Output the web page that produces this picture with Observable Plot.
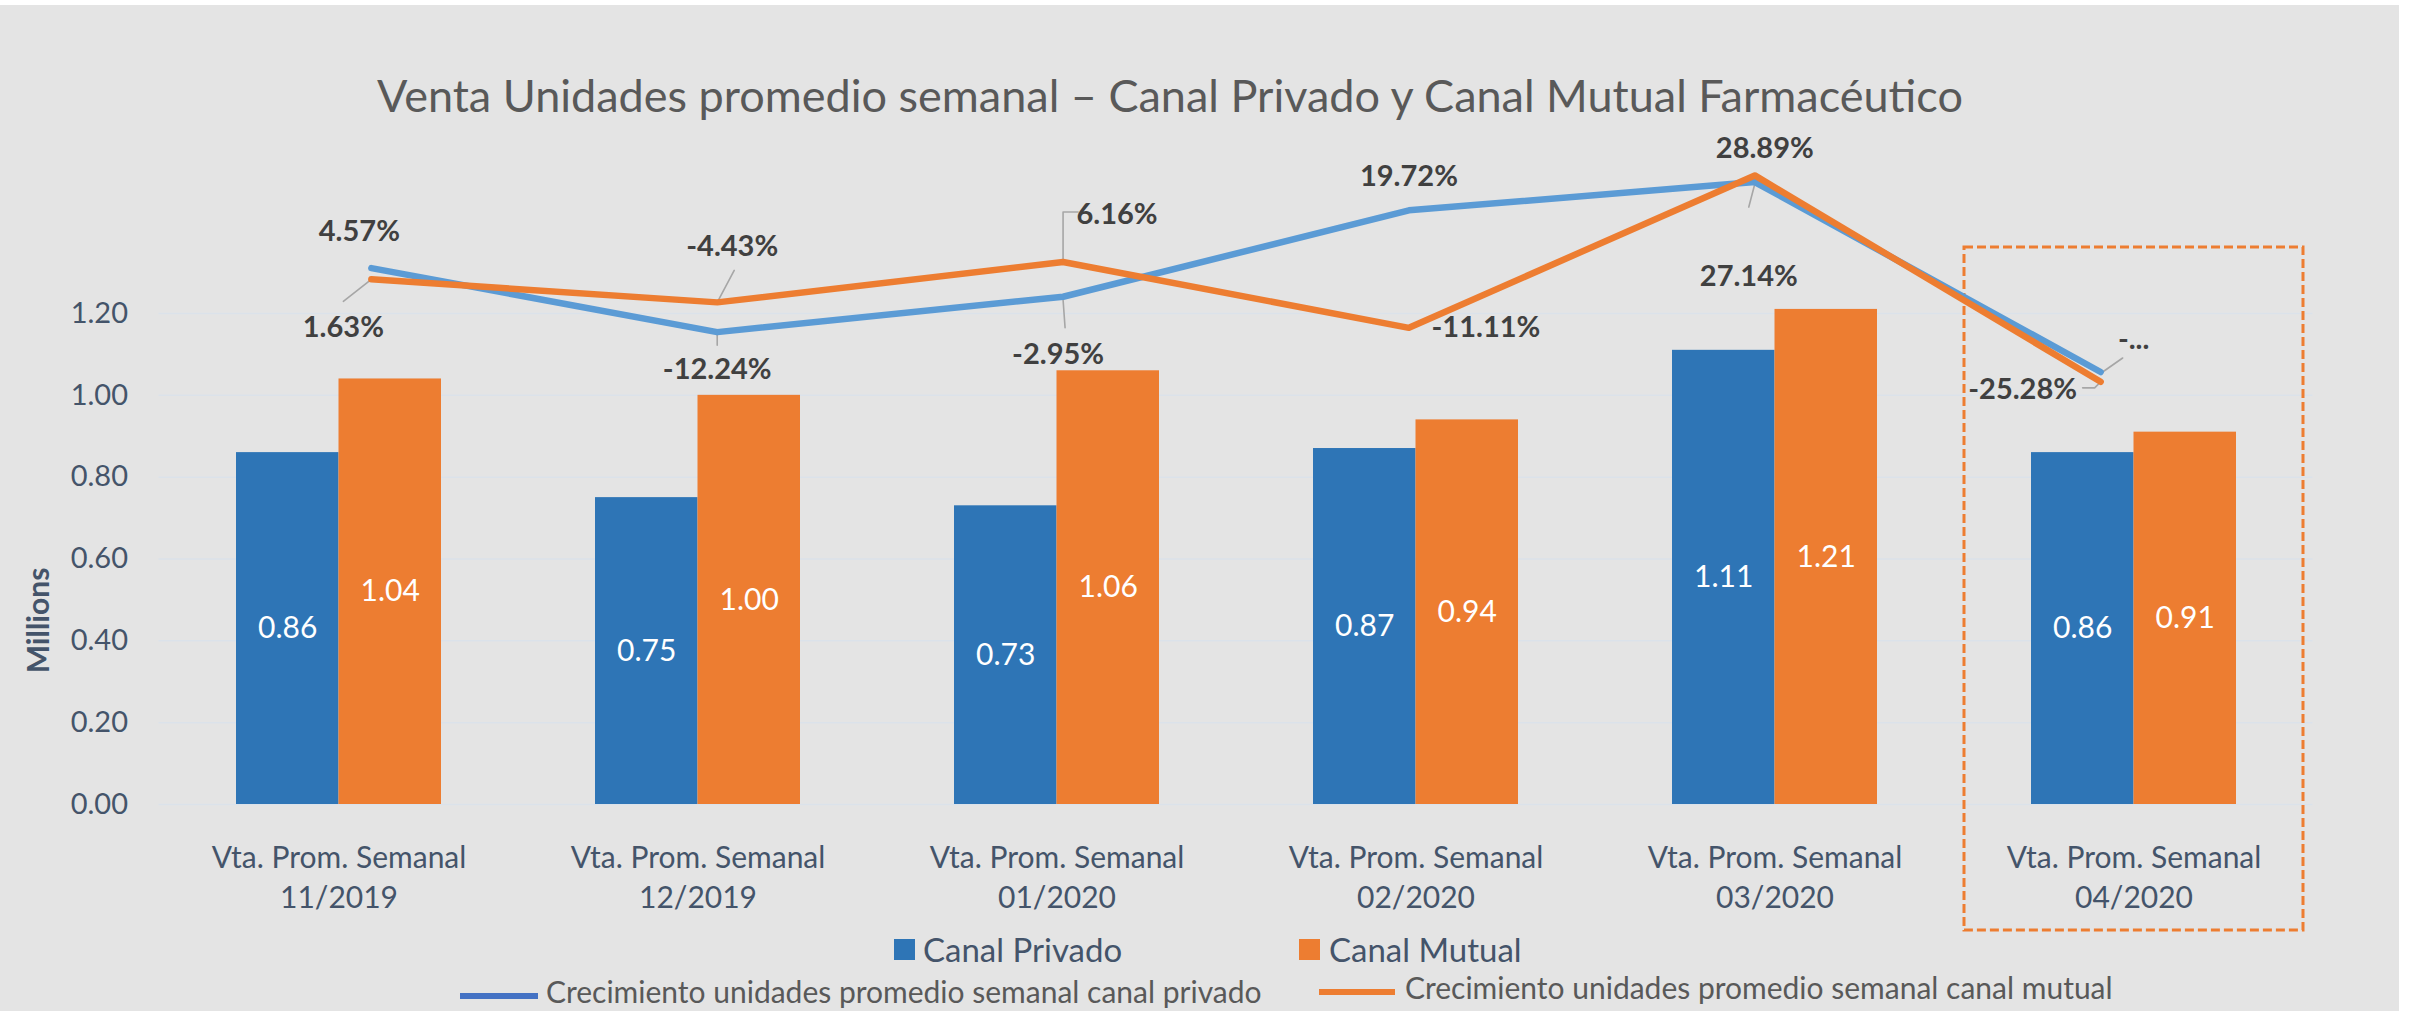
<!DOCTYPE html>
<html>
<head>
<meta charset="utf-8">
<script src="https://cdn.jsdelivr.net/npm/d3@7"></script>
<script src="https://cdn.jsdelivr.net/npm/@observablehq/plot@0.6"></script>
<style>
  html, body { margin: 0; padding: 0; background: #ffffff; }
  #wrap { position: relative; margin-top: 5px; width: 2399px; height: 1006px; background: #e4e4e4; overflow: hidden; font-family: Lato, "Open Sans", sans-serif; }
  #title { position: relative; height: 135px; }
  #title span { position: absolute; left: 0; width: 2340px; top: 64px; line-height: 52px; text-align: center; font-size: 45px; font-weight: 400; color: #595959; white-space: nowrap; }
  #chart { position: relative; width: 2399px; height: 792px; }
  #chart svg { position: absolute; left: 0; top: 0; }
  #legend { position: relative; height: 79px; }
  .lg { position: absolute; white-space: nowrap; }
  .sw { position: absolute; }
</style>
</head>
<body>
<div id="wrap">
  <div id="title"><span>Venta Unidades promedio semanal – Canal Privado y Canal Mutual Farmacéutico</span></div>
  <div id="chart"></div>
  <div id="legend"></div>
</div>
<script>
// ---------------- data ----------------
const categories = ["11/2019", "12/2019", "01/2020", "02/2020", "03/2020", "04/2020"];
const categoryPrefix = "Vta. Prom. Semanal";
const privado = [0.86, 0.75, 0.73, 0.87, 1.11, 0.86];          // millions
const mutual  = [1.04, 1.00, 1.06, 0.94, 1.21, 0.91];          // millions
const privadoGrowth = [4.57, -12.24, -2.95, 19.72, 27.14, -22.7];  // %
const mutualGrowth  = [1.63, -4.43, 6.16, -11.11, 28.89, -25.28];  // %
const privadoGrowthLabels = ["4.57%", "-12.24%", "-2.95%", "19.72%", "27.14%", "-..."];
const mutualGrowthLabels  = ["1.63%", "-4.43%", "6.16%", "-11.11%", "28.89%", "-25.28%"];
const yTicks = [0, 0.2, 0.4, 0.6, 0.8, 1.0, 1.2];
const highlightCategory = "04/2020";
const seriesNames = ["Canal Privado", "Canal Mutual"];
const lineNames = ["Crecimiento unidades promedio semanal canal privado", "Crecimiento unidades promedio semanal canal mutual"];

// ---------------- styles / layout ----------------
const colors = { privado: "#2e75b6", mutual: "#ed7d31", privadoLine: "#5b9bd5", mutualLine: "#ed7d31", axisText: "#44546a", grid: "#dbe2ea", pctText: "#404040", leader: "#a6a6a6" };
const W = 2399, H = 792;
const margins = { marginLeft: 158.5, marginRight: 86.5, marginTop: 173, marginBottom: 128 };
const font = "Lato, 'Open Sans', sans-serif";
// label offsets (px) relative to their points
const privadoLabelOffsets = [[-12, -36], [0, 38], [-5, 58], [0, -34], [-6, 95], [33, -32]];
const mutualLabelOffsets  = [[-28, 48], [15, -56], [54, -47], [77, 0], [10, -27], [-78, 8]];
// leader-line shapes (px offsets from their point), null = no leader
const privadoLeaders = [null, [[0, 3], [0, 13]], [[0, 3], [2, 31]], null, [[0, 2], [-6, 25]], [[2, 0], [22, -14]]];
const mutualLeaders  = [[[0, 0], [-28, 22]], [[0, 0], [17, -32]], [[0, 0], [0, -50], [15, -50]], null, null, [[0, 0], [-6, 6], [-18, 6]]];

const privadoRows = categories.map((c, i) => ({ cat: c, idx: i, value: privado[i], growth: privadoGrowth[i], label: privadoGrowthLabels[i] }));
const mutualRows  = categories.map((c, i) => ({ cat: c, idx: i, value: mutual[i], growth: mutualGrowth[i], label: mutualGrowthLabels[i] }));

const xOpts = { type: "band", domain: categories, paddingInner: 0.429, paddingOuter: 0.2145 };
const yOpts = { domain: [0, 1.2] };

// probe for band width
const probe = Plot.plot({ width: W, height: H, ...margins, x: xOpts, y: yOpts, marks: [Plot.barY(privadoRows, { x: "cat", y: "value" })] });
const bw = probe.scale("x").bandwidth;

const main = Plot.plot({
  width: W, height: H, ...margins,
  style: { background: "transparent", fontFamily: font, maxWidth: "none", overflow: "visible" },
  x: { ...xOpts, axis: null },
  y: { ...yOpts, axis: null },
  marks: [
    Plot.gridY(yTicks, { stroke: colors.grid, strokeOpacity: 1, strokeWidth: 1.5 }),
    Plot.barY(privadoRows, { x: "cat", y: "value", fill: colors.privado, insetRight: bw / 2, insetLeft: 0 }),
    Plot.barY(mutualRows, { x: "cat", y: "value", fill: colors.mutual, insetLeft: bw / 2, insetRight: 0 }),
    Plot.text(privadoRows, { x: "cat", y: d => d.value / 2, text: d => d.value.toFixed(2), dx: -bw / 4, fill: "white", fontSize: 30 }),
    Plot.text(mutualRows, { x: "cat", y: d => d.value / 2, text: d => d.value.toFixed(2), dx: bw / 4, fill: "white", fontSize: 30 }),
    Plot.axisY(yTicks, { tickSize: 0, tickPadding: 31, tickFormat: d => d.toFixed(2), fontSize: 29, fill: colors.axisText, label: null }),
    Plot.axisX({ tickSize: 0, tickPadding: 35, tickFormat: d => categoryPrefix + "\n" + d, fontSize: 30, lineHeight: 1.33, fill: colors.axisText, label: null }),
    Plot.text(["Millions"], { frameAnchor: "left", dx: -120, dy: 61.5, rotate: -90, textAnchor: "middle", fontWeight: "bold", fontSize: 30, fill: colors.axisText }),
    Plot.barY([highlightCategory], { x: d => d, y1: -0.308, y2: 1.361, insetLeft: -67, insetRight: -67, fill: "none", stroke: "#ed7d31", strokeWidth: 3, strokeDasharray: "9,4" })
  ]
});

// overlay (secondary axes for growth lines)
const oxOpts = { type: "linear", domain: [-0.614, categories.length - 1 + 0.614] };
const oyOpts = { domain: [-136.2, -7.35] };
const oprobe = Plot.plot({ width: W, height: H, ...margins, x: oxOpts, y: oyOpts, marks: [Plot.dot(privadoRows, { x: "idx", y: "growth" })] });
const ox = oprobe.scale("x"), oy = oprobe.scale("y");

const leaderMarks = [];
[[privadoRows, privadoLeaders], [mutualRows, mutualLeaders]].forEach(([rows, leaders]) => {
  rows.forEach((r, i) => {
    const shape = leaders[i];
    if (!shape) return;
    const pts = shape.map(([px, py]) => ({
      x: ox.invert(ox.apply(r.idx) + px),
      y: oy.invert(oy.apply(r.growth) + py)
    }));
    leaderMarks.push(Plot.line(pts, { x: "x", y: "y", stroke: colors.leader, strokeWidth: 1.6 }));
  });
});

const growthLabelMarks = [];
[[privadoRows, privadoLabelOffsets], [mutualRows, mutualLabelOffsets]].forEach(([rows, offs]) => {
  rows.forEach((r, i) => growthLabelMarks.push(
    Plot.text([r], { x: "idx", y: "growth", text: "label", dx: offs[i][0], dy: offs[i][1], fontWeight: "bold", fontSize: 29, fill: colors.pctText })
  ));
});

const overlay = Plot.plot({
  width: W, height: H, ...margins,
  style: { background: "transparent", fontFamily: font, maxWidth: "none", overflow: "visible" },
  x: { ...oxOpts, axis: null },
  y: { ...oyOpts, axis: null },
  marks: [
    ...leaderMarks,
    Plot.line(privadoRows, { x: "idx", y: "growth", stroke: colors.privadoLine, strokeWidth: 6.5, strokeLinejoin: "round", strokeLinecap: "round" }),
    Plot.line(mutualRows, { x: "idx", y: "growth", stroke: colors.mutualLine, strokeWidth: 6.5, strokeLinejoin: "round", strokeLinecap: "round" }),
    ...growthLabelMarks
  ]
});

const chart = document.getElementById("chart");
chart.appendChild(main);
chart.appendChild(overlay);

// ---------------- legend ----------------
const legend = document.getElementById("legend");
function add(html) { legend.insertAdjacentHTML("beforeend", html); }
add(`<div class="sw" style="left:894px;top:7px;width:21px;height:21px;background:${colors.privado}"></div>`);
add(`<div class="lg" style="left:923px;top:-3px;line-height:40px;font-size:33px;color:${colors.axisText}">${seriesNames[0]}</div>`);
add(`<div class="sw" style="left:1299px;top:7px;width:21px;height:21px;background:${colors.mutual}"></div>`);
add(`<div class="lg" style="left:1329px;top:-3px;line-height:40px;font-size:33px;color:${colors.axisText}">${seriesNames[1]}</div>`);
add(`<div class="sw" style="left:460px;top:61px;width:78px;height:6px;background:#4472c4"></div>`);
add(`<div class="lg" style="left:546px;top:39px;line-height:40px;font-size:30px;color:#595959">${lineNames[0]}</div>`);
add(`<div class="sw" style="left:1319px;top:57px;width:76px;height:6px;background:#ed7d31"></div>`);
add(`<div class="lg" style="left:1405px;top:35px;line-height:40px;font-size:30px;color:#595959">${lineNames[1]}</div>`);
</script>
</body>
</html>
